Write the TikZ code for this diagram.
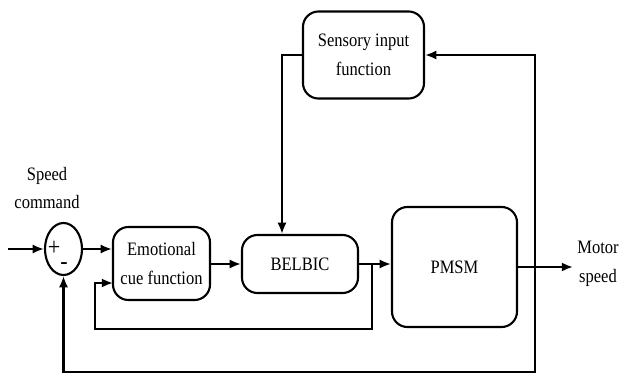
\documentclass[tikz,border=0pt]{standalone}
\usepackage{fontspec}
\setmainfont{Liberation Serif}[FakeStretch=0.87]
\usetikzlibrary{arrows.meta,shapes.geometric}

\begin{document}
\begin{tikzpicture}[
  x=0.025cm, y=-0.025cm,
  font=\fontsize{13.5}{20.5}\selectfont,
]

  \tikzstyle{block}=[draw,rectangle,rounded corners=11pt,line width=1.5pt,align=center,inner sep=1mm]
  \tikzstyle{sumnode}=[draw,ellipse,line width=1.5pt,minimum width=0.925cm,minimum height=1.3cm,inner sep=0pt]
  \tikzstyle{signode}=[font=\fontsize{18}{18}\selectfont,inner sep=0pt]
  \tikzstyle{txtnode}=[align=center]
  \tikzstyle{pointer}=[draw,-{Latex[length=8pt,width=6.5pt]},line width=1.5pt]

  \useasboundingbox (0,0) rectangle (620,375);

  % nodes
  \node[sumnode] (sum) at (63.5,249) {};
  \node[signode] (plus) at (54,248) {+};
  \node[signode] (minus) at (64,266) {-};

  \node[block,minimum width=2.425cm,minimum height=1.825cm] (emo) at (161.5,263.5) {Emotional\\cue function};
  \node[block,minimum width=2.9cm,minimum height=1.45cm] (belbic) at (300,264) {BELBIC};
  \node[block,minimum width=3.125cm,minimum height=3cm] (pmsm) at (454.5,267) {PMSM};
  \node[block,minimum width=3.025cm,minimum height=2.175cm] (sensory) at (363.5,55) {Sensory input\\function};

  \node[txtnode] (cmd) at (47,188) {Speed\\command};
  \node[txtnode] (motor) at (598,264) {Motor\\speed};

  \coordinate (in) at (8,249);
  \coordinate (tap) at (372,264);
  \coordinate (fbl) at (95,329);
  \coordinate (emoin) at (113,283);
  \coordinate (tap2) at (535,267);
  \coordinate (bot) at (535,372);
  \coordinate (out) at (573,267);

  % pointers
  \draw[pointer] (in) -- (sum.west);
  \draw[pointer] (sum.east) -- (sum.east -| emo.west);
  \draw[pointer] (emo.east |- belbic.west) -- (belbic.west);
  \draw[pointer] (belbic.east) -- (belbic.east -| pmsm.west);
  \draw[pointer] (tap) |- (fbl) |- (emoin);
  \draw[pointer] (pmsm.east) -- (out);
  \draw[pointer] (tap2) |- (sensory.east);
  \draw[pointer] (sensory.west) -| ([xshift=-0.45cm]belbic.north);
  \draw[pointer] (tap2) -- (bot) -| (sum.south);

\end{tikzpicture}
\end{document}
